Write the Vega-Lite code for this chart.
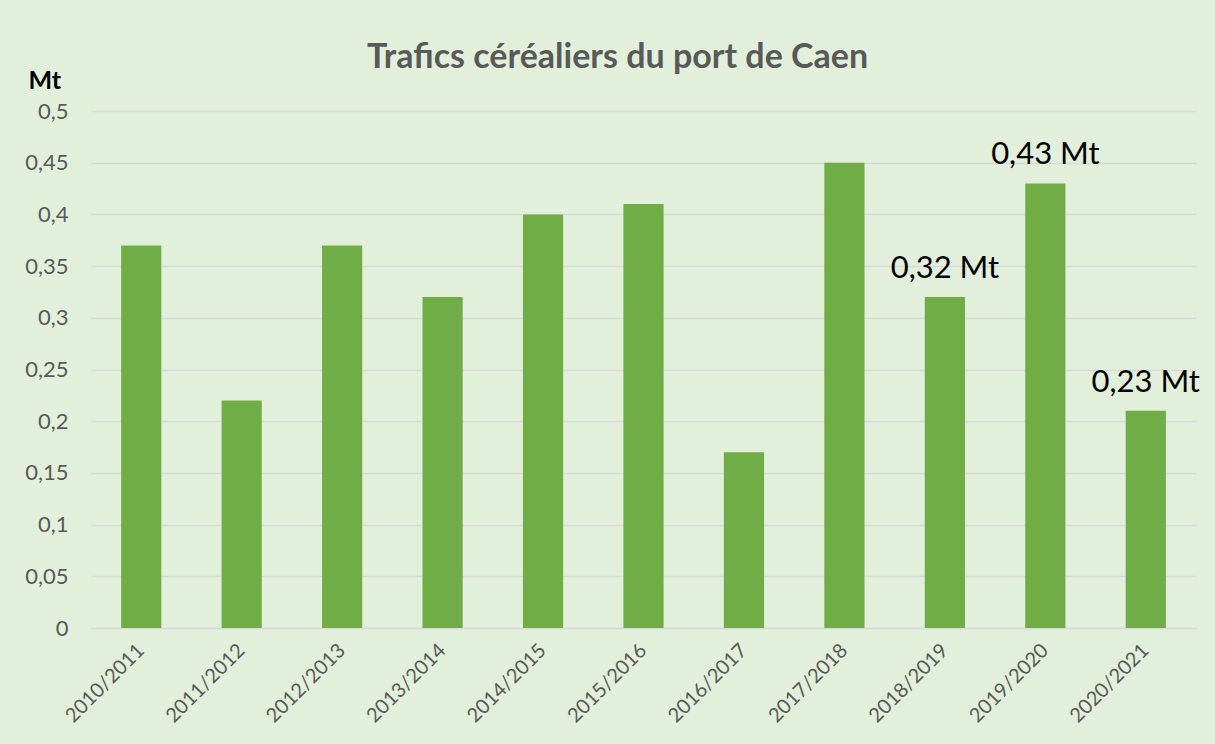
{
  "$schema": "https://vega.github.io/schema/vega-lite/v6.json",
  "autosize": {"type": "none"},
  "width": 1105,
  "height": 517,
  "padding": {"left": 91, "top": 111, "right": 19, "bottom": 116},
  "background": "#E2EFDA",
  "title": {
    "text": "Trafics céréaliers du port de Caen",
    "font": "Lato",
    "fontSize": 34,
    "fontWeight": "bold",
    "color": "#595959",
    "anchor": "middle",
    "frame": "group",
    "dx": -26,
    "offset": -7
  },
  "data": {
    "values": [
      {"saison": "2010/2011", "trafic": 0.37, "label": ""},
      {"saison": "2011/2012", "trafic": 0.22, "label": ""},
      {"saison": "2012/2013", "trafic": 0.37, "label": ""},
      {"saison": "2013/2014", "trafic": 0.32, "label": ""},
      {"saison": "2014/2015", "trafic": 0.40, "label": ""},
      {"saison": "2015/2016", "trafic": 0.41, "label": ""},
      {"saison": "2016/2017", "trafic": 0.17, "label": ""},
      {"saison": "2017/2018", "trafic": 0.45, "label": ""},
      {"saison": "2018/2019", "trafic": 0.32, "label": "0,32 Mt"},
      {"saison": "2019/2020", "trafic": 0.43, "label": "0,43 Mt"},
      {"saison": "2020/2021", "trafic": 0.21, "label": "0,23 Mt"}
    ]
  },
  "encoding": {
    "x": {
      "field": "saison",
      "type": "nominal",
      "sort": null,
      "scale": {"paddingInner": 0.6, "paddingOuter": 0.3},
      "axis": {
        "title": null,
        "labelAngle": -45,
        "labelAlign": "right",
        "labelBaseline": "middle",
        "labelFont": "Lato",
        "labelFontSize": 20,
        "labelColor": "#595959",
        "labelPadding": 19,
        "ticks": false,
        "domain": true,
        "domainColor": "#D9D9D9",
        "domainWidth": 1.5,
        "grid": false
      }
    },
    "y": {
      "field": "trafic",
      "type": "quantitative",
      "scale": {"domain": [0, 0.5], "nice": false},
      "axis": {
        "title": "Mt",
        "titleAngle": 0,
        "titleAlign": "left",
        "titleBaseline": "alphabetic",
        "titleX": -63,
        "titleY": -23,
        "titleFont": "Lato",
        "titleFontSize": 25,
        "titleFontWeight": "bold",
        "titleColor": "#000000",
        "values": [0, 0.05, 0.1, 0.15, 0.2, 0.25, 0.3, 0.35, 0.4, 0.45, 0.5],
        "labelExpr": "replace(format(datum.value, '~g'), '.', ',')",
        "labelFont": "Lato",
        "labelFontSize": 22,
        "labelColor": "#595959",
        "labelPadding": 23,
        "ticks": false,
        "domain": false,
        "grid": true,
        "gridColor": "#D9D9D9",
        "gridWidth": 1.5
      }
    }
  },
  "layer": [
    {"mark": {"type": "bar", "color": "#70AD47"}},
    {
      "mark": {"type": "text", "font": "Lato", "fontSize": 31, "color": "#000000", "baseline": "alphabetic", "dy": -19},
      "encoding": {"text": {"field": "label"}}
    }
  ],
  "config": {"view": {"stroke": null}}
}
